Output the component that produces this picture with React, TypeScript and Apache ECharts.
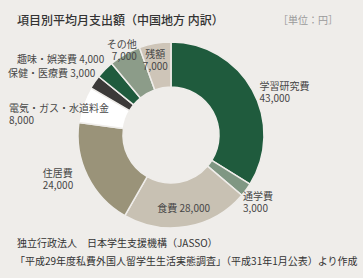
import React, { useEffect, useRef } from "react";
import * as echarts from "echarts";

const categories = [
  "学習研究費",
  "通学費",
  "食費",
  "住居費",
  "電気・ガス・水道料金",
  "保健・医療費",
  "趣味・娯楽費",
  "その他",
  "残額",
];
const values = [43000, 3000, 28000, 24000, 8000, 3000, 4000, 7000, 7000];
const colors = [
  "#1f5b3d",
  "#7f9783",
  "#c8c1b3",
  "#9a9379",
  "#ffffff",
  "#3b3938",
  "#1f5b3d",
  "#8c9c89",
  "#cec5b8",
];
// label style per slice: inside/outside, one/two lines, line alignment
const labelModes = ["out2", "out2", "in1", "out2", "out2", "out1", "out1", "out2", "in2"];
const labelLineAlign = ["l", "l", "c", "l", "l", "l", "l", "r", "c"];
const labelNudges: [number, number][] = [
  [-3, 5],
  [-13, 8],
  [0, 0],
  [-4, 0],
  [-1, 10],
  [-2, -11],
  [7, -11],
  [20, 0],
  [-3, -3],
];

const BG = "#efedea";
const FONT = "'Noto Sans CJK JP', 'Noto Sans', sans-serif";

function fmt(v: number) {
  return v.toLocaleString("en-US");
}

export default function App() {
  const ref = useRef<HTMLDivElement>(null);
  useEffect(() => {
    if (!ref.current) return;
    const chart = echarts.init(ref.current, undefined, { renderer: "svg" });
    const data = categories.map((name, i) => {
      const mode = labelModes[i];
      const a = labelLineAlign[i];
      const text =
        mode.endsWith("1")
          ? `{${a}|${name} ${fmt(values[i])}}`
          : `{${a}|${name}}\n{${a}|${fmt(values[i])}}`;
      return {
        name,
        value: values[i],
        itemStyle: { color: colors[i] },
        label: {
          position: mode.startsWith("in") ? "inside" : "outside",
          formatter: text,
        },
      };
    });
    const lineStyle = {
      color: "#474747",
      fontSize: 10,
      lineHeight: 12,
      fontFamily: FONT,
    };
    chart.setOption({
      animation: false,
      backgroundColor: BG,
      textStyle: { fontFamily: FONT },
      graphic: [
        {
          type: "text",
          left: 17,
          top: 13,
          style: {
            text: "項目別平均月支出額（中国地方 内訳）",
            font: `500 12px ${FONT}`,
            fill: "#333333",
          },
        },
        {
          type: "text",
          right: 25,
          top: 14,
          style: {
            text: "［単位：円］",
            font: `10px ${FONT}`,
            fill: "#9a9a9a",
          },
        },
        {
          type: "text",
          left: 17,
          top: 237,
          style: {
            text: "独立行政法人　日本学生支援機構（JASSO）",
            font: `10px ${FONT}`,
            fill: "#333333",
          },
        },
        {
          type: "text",
          left: 15,
          top: 255,
          style: {
            text: "「平成29年度私費外国人留学生生活実態調査」（平成31年1月公表）より作成",
            font: `10px ${FONT}`,
            fill: "#333333",
          },
        },
      ],
      series: [
        {
          type: "pie",
          center: [171, 135],
          radius: [48, 93],
          startAngle: 90,
          clockwise: true,
          data,
          itemStyle: { borderColor: BG, borderWidth: 1.5 },
          label: {
            show: true,
            color: "#474747",
            fontSize: 10,
            lineHeight: 12,
            fontFamily: FONT,
            overflow: "none",
            rich: {
              l: { ...lineStyle, align: "left" },
              c: { ...lineStyle, align: "center" },
              r: { ...lineStyle, align: "right" },
            },
          },
          labelLine: { show: false, length: 6, length2: 0 },
          labelLayout: (p: any) => {
            const n = labelNudges[p.dataIndex];
            return { dx: n[0], dy: n[1] };
          },
          emphasis: { disabled: true },
        },
      ],
    });
    return () => chart.dispose();
  }, []);
  return (
    <div
      ref={ref}
      style={{ position: "fixed", left: 0, top: 0, width: 363, height: 278 }}
    />
  );
}
